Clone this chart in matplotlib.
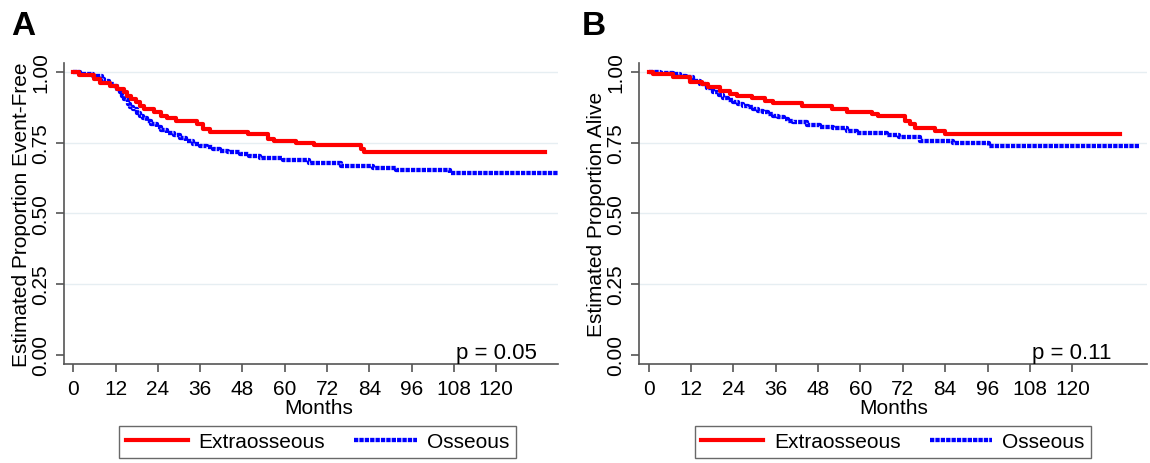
import matplotlib
matplotlib.use("Agg")
import matplotlib.pyplot as plt
from matplotlib.lines import Line2D
from matplotlib.transforms import blended_transform_factory

plt.rcParams['font.family'] = ['Liberation Sans', 'DejaVu Sans']

# --- Dados (meses, sobrevida estimada) ---
# Painel A: sobrevida livre de eventos
efs_extra_t = [0, 1.5, 6, 7.6, 10.4, 12.5, 14.4, 15.3, 16.5, 17.7, 19, 20.1, 22.9, 24.8,
               26.7, 29, 35, 36.9, 38.8, 49.5, 55.3, 56.9, 63.2, 68.4, 81.6, 82.5, 134]
efs_extra_s = [1.0, 0.988, 0.975, 0.96, 0.95, 0.94, 0.928, 0.915, 0.905, 0.892, 0.88, 0.868,
               0.857, 0.845, 0.835, 0.825, 0.815, 0.798, 0.788, 0.780, 0.762, 0.756, 0.748,
               0.741, 0.728, 0.716, 0.716]
efs_oss_t = [0, 2, 5.5, 8, 8.8, 10, 11.5, 12.5, 13.2, 13.8, 14.4, 15.6, 16.2, 17, 18, 18.9,
             19.8, 20.8, 22, 23.7, 25, 26.5, 28.5, 30.3, 32, 34.1, 36, 37.8, 39.5, 41.6, 44,
             47.3, 50, 53, 59.4, 67, 76, 85, 91.7, 107, 137.7]
efs_oss_s = [1.0, 0.992, 0.984, 0.976, 0.968, 0.958, 0.948, 0.938, 0.927, 0.915, 0.904, 0.886,
             0.877, 0.868, 0.856, 0.845, 0.836, 0.827, 0.816, 0.804, 0.794, 0.784, 0.775,
             0.765, 0.755, 0.745, 0.739, 0.733, 0.727, 0.721, 0.715, 0.709, 0.702, 0.695,
             0.687, 0.679, 0.667, 0.66, 0.653, 0.642, 0.642]

# Painel B: sobrevida global
os_extra_t = [0, 1.3, 7, 11.7, 15, 16.9, 20.2, 23, 24.9, 29.2, 33, 35.3, 43.4, 51.9, 56.1,
              63.2, 65, 72.7, 74.1, 75.5, 81.2, 84, 133.6]
os_extra_s = [1.0, 0.992, 0.98, 0.963, 0.957, 0.945, 0.933, 0.921, 0.915, 0.906, 0.898,
              0.889, 0.878, 0.868, 0.857, 0.851, 0.843, 0.827, 0.815, 0.80, 0.79, 0.78, 0.78]
os_oss_t = [0, 3.3, 7, 8.9, 10.5, 12.6, 14.5, 16.4, 18.3, 19.8, 21.2, 22.6, 24, 25.4, 26.8,
            28.2, 29.7, 31.1, 32.5, 33.9, 35.3, 36.7, 38.2, 39.6, 41, 44.8, 48.6, 52.3, 56.1,
            59, 67.5, 70.8, 76.9, 86.3, 96.3, 138.8]
os_oss_s = [1.0, 0.997, 0.992, 0.986, 0.98, 0.968, 0.957, 0.941, 0.927, 0.918, 0.909, 0.901,
            0.894, 0.887, 0.880, 0.874, 0.868, 0.862, 0.857, 0.851, 0.845, 0.839, 0.833,
            0.827, 0.821, 0.812, 0.806, 0.80, 0.792, 0.784, 0.777, 0.771, 0.756, 0.748,
            0.737, 0.737]

groups = ["Extraosseous", "Osseous"]
xticks = [0, 12, 24, 36, 48, 60, 72, 84, 96, 108, 120]
yticks = [0.00, 0.25, 0.50, 0.75, 1.00]

RED = '#ff0000'
BLUE = '#0000ff'
SPINE = '#555555'
blue_ls = (0, (1.0, 0.25))
FS = 15

fig = plt.figure(figsize=(11.5, 4.64), dpi=100)

panels = [
    dict(rect=[0.0557, 0.2134, 0.4296, 0.6487], xmax=137.6, letter='A', lx=11,
         ylabel='Estimated Proportion Event-Free', p='p = 0.05', px=131.6,
         red=(efs_extra_t, efs_extra_s), blue=(efs_oss_t, efs_oss_s), legx=0.2761),
    dict(rect=[0.5559, 0.2134, 0.4417, 0.6487], xmax=141.2, letter='B', lx=582,
         ylabel='Estimated Proportion Alive', p='p = 0.11', px=131.2,
         red=(os_extra_t, os_extra_s), blue=(os_oss_t, os_oss_s), legx=0.7764),
]

for pn in panels:
    ax = fig.add_axes(pn['rect'])
    ax.set_xlim(-2.64, pn['xmax'])
    ax.set_ylim(-0.032, 1.031)

    # grade horizontal clara
    for yv in [0.25, 0.5, 0.75, 1.0]:
        ax.axhline(yv, color='#e6eef2', lw=1.0, zorder=0)

    ax.step(pn['red'][0], pn['red'][1], where='post', color=RED, lw=3.0, zorder=3)
    ax.step(pn['blue'][0], pn['blue'][1], where='post', color=BLUE, lw=3.1,
            linestyle=blue_ls, zorder=2)

    for s in ['top', 'right']:
        ax.spines[s].set_visible(False)
    for s in ['left', 'bottom']:
        ax.spines[s].set_color(SPINE)
        ax.spines[s].set_linewidth(1.2)

    ax.set_xticks(xticks)
    ax.set_yticks(yticks)
    ax.set_yticklabels([f"{v:.2f}" for v in yticks])
    ax.tick_params(axis='both', colors=SPINE, length=6, width=1.2, labelsize=FS,
                   labelcolor='black')
    ax.tick_params(axis='y', labelrotation=90, pad=4)
    ax.tick_params(axis='x', pad=5)
    for lab in ax.get_yticklabels():
        lab.set_va('center')

    ax.set_ylabel(pn['ylabel'], fontsize=FS)
    ax.yaxis.set_label_coords(-0.066, 0.5)
    ax.set_xlabel('Months', fontsize=FS, labelpad=0)
    trans = blended_transform_factory(ax.transData, ax.transAxes)
    ax.xaxis.set_label_coords(69.5, -0.112, transform=trans)

    ax.text(pn['px'], -0.010, pn['p'], ha='right', va='baseline', fontsize=16)

    fig.text(pn['lx'] / 1150, (464 - 35) / 464, pn['letter'], fontsize=24,
             fontweight='bold', va='baseline', ha='left')

    handles = [Line2D([], [], color=RED, lw=3.0),
               Line2D([], [], color=BLUE, lw=3.1, linestyle=blue_ls)]
    leg = ax.legend(handles, groups, loc='upper center',
                    bbox_to_anchor=(pn['legx'], 0.0797), bbox_transform=fig.transFigure,
                    ncol=2, fontsize=FS, frameon=True, fancybox=False,
                    edgecolor='#444444', handlelength=3.0, handletextpad=0.5,
                    columnspacing=1.4, borderpad=0.3, borderaxespad=0)
    leg.get_frame().set_linewidth(1.0)

fig.savefig('out.png', dpi=100)
